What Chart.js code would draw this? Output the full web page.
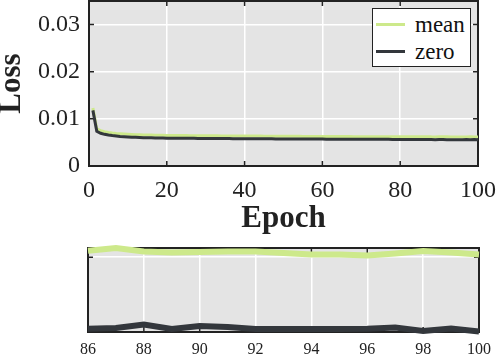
<!DOCTYPE html>
<html>
<head>
<meta charset="utf-8">
<script src="https://cdn.jsdelivr.net/npm/chart.js@4.4.1/dist/chart.umd.min.js"></script>
<style>
  body { margin: 0; background: #fff; }
  #wrap { position: relative; width: 498px; height: 355px; overflow: hidden; }
  #wrap canvas { position: absolute; left: 0; }
  #topChart { top: 0; }
  #bottomChart { top: 240px; }
  #legend {
    position: absolute; left: 372px; top: 8px; width: 99px; height: 59px;
    box-sizing: border-box; background: #fff; border: 1.5px solid #222;
    font-family: "Liberation Serif", serif; font-size: 23px; color: #111;
  }
  .lg-row { position: absolute; left: 0; height: 27px; width: 100%; }
  .lg-line { position: absolute; left: 3px; top: 12px; width: 29px; height: 3px; }
  .lg-text { position: absolute; left: 42px; top: 0; line-height: 27px; }
</style>
</head>
<body>
<div id="wrap">
  <canvas id="topChart" width="498" height="240"></canvas>
  <canvas id="bottomChart" width="498" height="115"></canvas>
  <div id="legend"></div>
</div>
<script>
// epochs 1..100
const epochs = Array.from({ length: 100 }, (_, i) => i + 1);

const meanLoss = [
  0.01230, 0.00785, 0.00748, 0.00726, 0.00711, 0.00700, 0.00691, 0.00684, 0.00678, 0.00673,
  0.00669, 0.00665, 0.00662, 0.00659, 0.00657, 0.00655, 0.00653, 0.00652, 0.00650, 0.00649,
  0.00648, 0.00647, 0.00646, 0.00645, 0.00645, 0.00644, 0.00643, 0.00643, 0.00642, 0.00641,
  0.00641, 0.00640, 0.00640, 0.00639, 0.00638, 0.00638, 0.00637, 0.00637, 0.00636, 0.00636,
  0.00635, 0.00635, 0.00634, 0.00634, 0.00633, 0.00633, 0.00632, 0.00632, 0.00631, 0.00631,
  0.00630, 0.00630, 0.00629, 0.00629, 0.00628, 0.00628, 0.00628, 0.00627, 0.00627, 0.00626,
  0.00626, 0.00626, 0.00625, 0.00625, 0.00624, 0.00624, 0.00624, 0.00623, 0.00623, 0.00623,
  0.00622, 0.00622, 0.00622, 0.00621, 0.00621, 0.00621, 0.00621, 0.00620, 0.00620, 0.00620,
  0.00620, 0.00619, 0.00619, 0.00619, 0.00619, 0.006189, 0.006210, 0.006183, 0.006176, 0.006180,
  0.006183, 0.006183, 0.006172, 0.006160, 0.006160, 0.006153, 0.006168, 0.006187, 0.006176, 0.006160
];

const zeroLoss = [
  0.01180, 0.00735, 0.00695, 0.00672, 0.00656, 0.00645, 0.00636, 0.00628, 0.00622, 0.00617,
  0.00612, 0.00608, 0.00604, 0.00601, 0.00599, 0.00597, 0.00595, 0.00594, 0.00592, 0.00591,
  0.00590, 0.00589, 0.00588, 0.00588, 0.00587, 0.00586, 0.00586, 0.00585, 0.00584, 0.00584,
  0.00583, 0.00583, 0.00582, 0.00582, 0.00581, 0.00581, 0.00580, 0.00580, 0.00579, 0.00579,
  0.00578, 0.00578, 0.00577, 0.00577, 0.00577, 0.00576, 0.00576, 0.00575, 0.00575, 0.00575,
  0.00574, 0.00574, 0.00573, 0.00573, 0.00573, 0.00572, 0.00572, 0.00572, 0.00571, 0.00571,
  0.00570, 0.00570, 0.00570, 0.00569, 0.00569, 0.00569, 0.00568, 0.00568, 0.00567, 0.00567,
  0.00567, 0.00566, 0.00566, 0.00566, 0.00565, 0.00565, 0.00565, 0.00564, 0.00564, 0.00564,
  0.00563, 0.00563, 0.00562, 0.00562, 0.00561, 0.005595, 0.005600, 0.005627, 0.005593, 0.005616,
  0.005608, 0.005593, 0.005592, 0.005593, 0.005592, 0.005594, 0.005604, 0.005578, 0.005597, 0.005574
];

const seriesNames = ['mean', 'zero'];
const seriesColors = ['#cde98b', '#33373c'];

const xTicksTop = [0, 20, 40, 60, 80, 100];
const yTicksTop = [0, 0.01, 0.02, 0.03];
const yTickLabelsTop = ['0', '0.01', '0.02', '0.03'];
const xTicksBottom = [86, 88, 90, 92, 94, 96, 98, 100];
const yTicksBottom = [0.00614];
const zoomFrom = 86;

const SERIF = '"Liberation Serif", "Times New Roman", serif';
const INK = '#222';

// gray plot background + box with inward tick marks (MATLAB look)
const axesBox = {
  id: 'axesBox',
  beforeDraw(chart) {
    const { ctx, chartArea: a } = chart;
    ctx.save();
    ctx.fillStyle = '#e4e4e4';
    ctx.fillRect(a.left, a.top, a.right - a.left, a.bottom - a.top);
    ctx.restore();
  },
  beforeDatasetsDraw(chart) {
    const { ctx, chartArea: a, scales } = chart;
    const len = 5;
    ctx.save();
    ctx.strokeStyle = INK;
    ctx.lineWidth = 1.5;
    ctx.beginPath();
    scales.x.ticks.forEach(t => {
      const px = scales.x.getPixelForValue(t.value);
      ctx.moveTo(px, a.bottom); ctx.lineTo(px, a.bottom - len);
      ctx.moveTo(px, a.top); ctx.lineTo(px, a.top + len);
    });
    scales.y.ticks.forEach(t => {
      const py = scales.y.getPixelForValue(t.value);
      ctx.moveTo(a.left, py); ctx.lineTo(a.left + len, py);
      ctx.moveTo(a.right, py); ctx.lineTo(a.right - len, py);
    });
    ctx.stroke();
    ctx.lineWidth = 2;
    ctx.strokeRect(a.left, a.top, a.right - a.left, a.bottom - a.top);
    ctx.restore();
  }
};

// fixed axis sizes, no extra label padding so the plot box lands where it should
const fixX = h => s => { s.height = h; s.paddingLeft = 0; s.paddingRight = 0; };
const fixY = w => s => { s.width = w; s.paddingTop = 0; s.paddingBottom = 0; };

function makeDatasets(from, width) {
  const idx = epochs.map((e, i) => i).filter(i => epochs[i] >= from);
  const values = [meanLoss, zeroLoss];
  return seriesNames.map((name, k) => ({
    label: name,
    data: idx.map(i => ({ x: epochs[i], y: values[k][i] })),
    borderColor: seriesColors[k],
    borderWidth: width,
    pointRadius: 0,
    tension: 0,
    fill: false,
    order: 2 - k,
    clip: false
  }));
}

const topChart = new Chart(document.getElementById('topChart'), {
  type: 'line',
  data: { datasets: makeDatasets(0, 3) },
  options: {
    responsive: false, animation: false, devicePixelRatio: 1,
    layout: { padding: { top: 1, right: 20, left: 0, bottom: 0 } },
    plugins: { legend: { display: false }, tooltip: { enabled: false } },
    scales: {
      x: {
        type: 'linear', min: 0, max: 100,
        afterBuildTicks: s => { s.ticks = xTicksTop.map(v => ({ value: v })); },
        afterFit: fixX(74),
        grid: { color: '#fff', lineWidth: 1.5, drawTicks: false },
        border: { display: false },
        ticks: { color: INK, font: { family: SERIF, size: 24 }, padding: 10, maxRotation: 0 },
        title: { display: true, text: 'Epoch', color: INK, font: { family: SERIF, size: 31, weight: 'bold', lineHeight: 1.2 }, padding: { top: 0, bottom: 2 } }
      },
      y: {
        type: 'linear', min: 0, max: 0.035,
        afterBuildTicks: s => { s.ticks = yTicksTop.map(v => ({ value: v })); },
        afterFit: fixY(89),
        grid: { color: '#fff', lineWidth: 1.5, drawTicks: false },
        border: { display: false },
        ticks: { color: INK, font: { family: SERIF, size: 24 }, padding: 9, callback: (v, i) => yTickLabelsTop[i] },
        title: { display: true, text: 'Loss', color: INK, font: { family: SERIF, size: 31, weight: 'bold', lineHeight: 0.8 }, padding: { top: 0, bottom: 0 } }
      }
    }
  },
  plugins: [axesBox]
});

new Chart(document.getElementById('bottomChart'), {
  type: 'line',
  data: { datasets: makeDatasets(zoomFrom, 6) },
  options: {
    responsive: false, animation: false, devicePixelRatio: 1,
    layout: { padding: { top: 8, right: 19, left: 0, bottom: 0 } },
    plugins: { legend: { display: false }, tooltip: { enabled: false } },
    scales: {
      x: {
        type: 'linear', min: 86, max: 100,
        afterBuildTicks: s => { s.ticks = xTicksBottom.map(v => ({ value: v })); },
        afterFit: fixX(23),
        grid: { color: '#fff', lineWidth: 1.5, drawTicks: false },
        border: { display: false },
        ticks: { color: INK, font: { family: SERIF, size: 16 }, padding: 8, maxRotation: 0 }
      },
      y: {
        type: 'linear', min: 0.00557, max: 0.00621,
        afterBuildTicks: s => { s.ticks = yTicksBottom.map(v => ({ value: v })); },
        afterFit: fixY(88),
        grid: { color: '#fff', lineWidth: 1.5, drawTicks: false },
        border: { display: false },
        ticks: { display: false }
      }
    }
  },
  plugins: [axesBox]
});

// HTML legend from the top chart's datasets
const legendEl = document.getElementById('legend');
topChart.data.datasets.forEach((ds, i) => {
  const row = document.createElement('div');
  row.className = 'lg-row';
  row.style.top = (2 + i * 27) + 'px';
  row.innerHTML = '<span class="lg-line" style="background:' + ds.borderColor + '"></span><span class="lg-text">' + ds.label + '</span>';
  legendEl.appendChild(row);
});
</script>
</body>
</html>
